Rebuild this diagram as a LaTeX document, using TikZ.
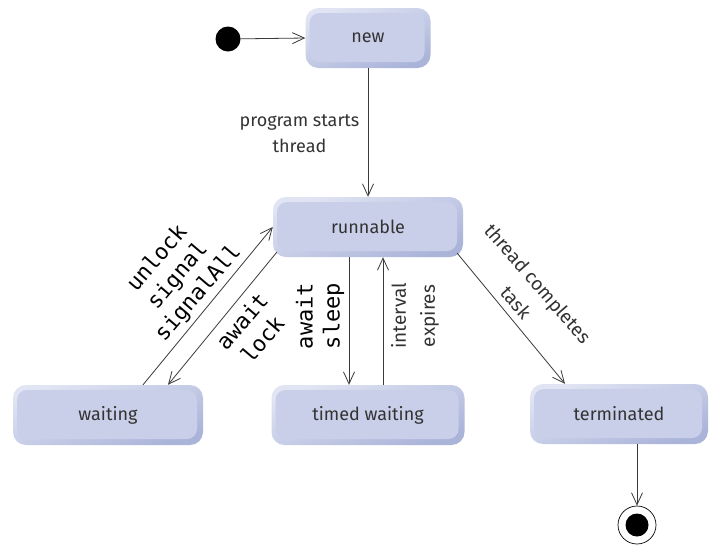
\documentclass[tikz,border=0pt]{standalone}
\usepackage{fontspec}
\setmainfont{Fira Sans}
\setmonofont{DejaVu Sans Mono}
\usetikzlibrary{arrows.meta}

\definecolor{boxtop}{HTML}{E0E4F3}
\definecolor{boxbot}{HTML}{AAB4D9}
\definecolor{boxmid}{HTML}{C9CFE9}
\definecolor{ink}{HTML}{333333}
\definecolor{wire}{HTML}{3A3A3A}

\begin{document}
\begin{tikzpicture}[x=1pt,y=-1pt,
  statebox/.style={rounded corners=13pt, minimum height=60pt, inner sep=0pt,
    top color=boxtop, bottom color=boxbot, shading angle=20,
    font=\fontsize{18}{22}\selectfont, text=ink,
    path picture={\fill[boxmid, rounded corners=10pt]
      ([xshift=4pt,yshift=-5pt]path picture bounding box.north west) rectangle
      ([xshift=-6pt,yshift=6pt]path picture bounding box.south east);}},
  wire/.style={draw=wire, line width=0.8pt, -{Straight Barb[length=12pt,width=11pt]}},
  lbl/.style={font=\fontsize{19}{29}\selectfont, text=ink, align=center, inner sep=0pt},
  mlbl/.style={font=\ttfamily\fontsize{22}{27}\selectfont, text=black, align=center, inner sep=0pt}
]
\fill[white] (0,0) rectangle (711,547);
\useasboundingbox (0,0) rectangle (711,547);

% states
\node[statebox, minimum width=125pt] (new)   at (368,38)  {new};
\node[statebox, minimum width=190pt] (run)   at (368,227) {runnable};
\node[statebox, minimum width=190pt] (wait)  at (108,415) {waiting};
\node[statebox, minimum width=193pt] (timed) at (368,415) {timed waiting};
\node[statebox, minimum width=178pt] (term)  at (619,414) {terminated};

% pseudo-states
\node[circle, fill=black, minimum size=25pt, inner sep=0pt] (init) at (228,39) {};
\node[circle, draw=black, line width=0.7pt, minimum size=38pt, inner sep=0pt] (fin) at (637,525) {};
\node[circle, fill=black, minimum size=23pt, inner sep=0pt] (finc) at (fin) {};

% transitions
\draw[wire] (init) -- (new.west);
\draw[wire] (new) -- (run);
\draw[wire] ([xshift=35pt]wait.north) -- (run.west);
\draw[wire] ([xshift=4pt,yshift=5pt]run.south west) -- ([xshift=60pt]wait.north);
\draw[wire] ([xshift=-19pt]run.south) -- ([xshift=-19pt]timed.north);
\draw[wire] ([xshift=15pt]timed.north) -- ([xshift=15pt]run.south);
\draw[wire] ([xshift=-6pt,yshift=4pt]run.south east) -- ([xshift=-54pt]term.north);
\draw[wire] ([xshift=18pt]term.south) -- (fin);

% transition labels
\node[lbl, font=\fontsize{18}{26}\selectfont] (lstart) at (299.5,134) {program starts\\thread};
\node[mlbl, rotate=49.5] (lunlock) at (178,276) {unlock\\signal\\signalAll};
\node[mlbl, rotate=49.5] (lawait) at (252,330) {await\\lock};
\node[mlbl, rotate=90] (lsleep) at (320,316) {await\\sleep};
\node[lbl, rotate=90] (linterval) at (415,316) {interval\\expires};
\node[lbl, rotate=-49] (ldone) at (527,293) {thread completes\\task};
\end{tikzpicture}
\end{document}
